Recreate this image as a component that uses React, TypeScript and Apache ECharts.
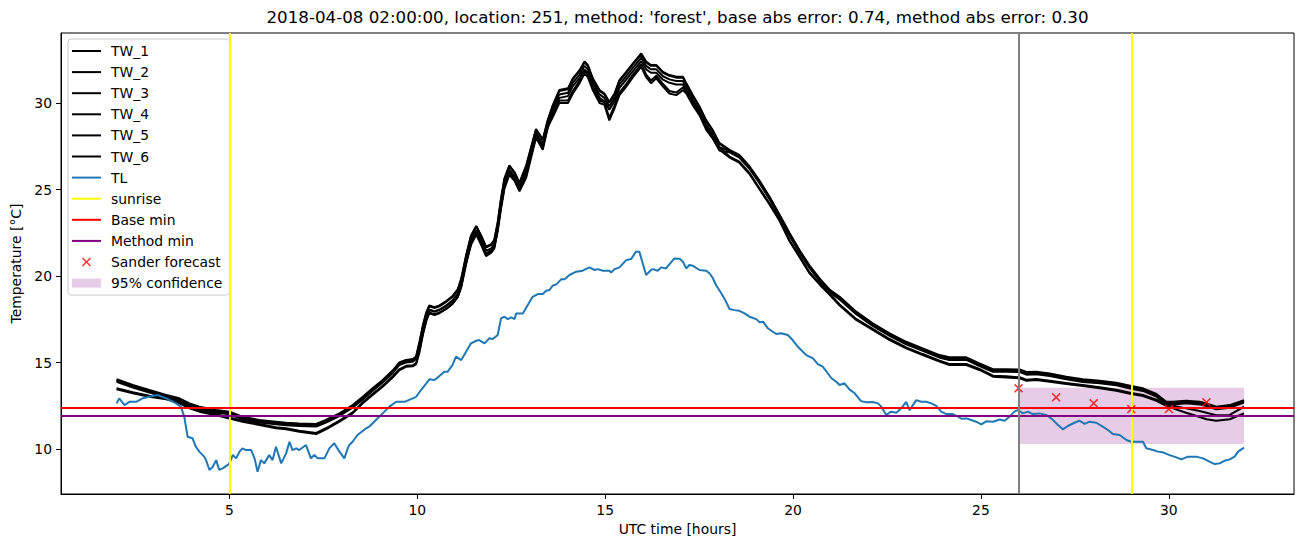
import { useEffect, useRef } from "react";
import * as echarts from "echarts";

const TITLE =
  "2018-04-08 02:00:00, location: 251, method: 'forest', base abs error: 0.74, method abs error: 0.30";
const X_TICKS = [5, 10, 15, 20, 25, 30];
const Y_TICKS = [10, 15, 20, 25, 30];

const TW_HOURS = [
  2.0, 2.43, 2.87, 3.32, 3.67, 3.94, 4.2, 4.65, 5.0, 5.35,
  5.8, 6.24, 6.51, 6.86, 7.31, 7.57, 7.93, 8.28, 8.55, 8.81,
  9.08, 9.35, 9.52, 9.7, 9.88, 9.97, 10.06, 10.15, 10.24, 10.32,
  10.46, 10.59, 10.77, 10.94, 11.08, 11.17, 11.3, 11.43, 11.57, 11.7,
  11.83, 11.97, 12.05, 12.14, 12.23, 12.32, 12.45, 12.59, 12.72, 12.9,
  13.16, 13.34, 13.47, 13.61, 13.78, 14.01, 14.14, 14.32, 14.45, 14.54,
  14.67, 14.85, 14.98, 15.11, 15.25, 15.38, 15.56, 15.74, 15.96, 16.09,
  16.22, 16.36, 16.54, 16.71, 16.89, 17.07, 17.16, 17.33, 17.51, 17.69,
  17.86, 18.04, 18.31, 18.57, 18.84, 19.11, 19.37, 19.64, 19.91, 20.17,
  20.44, 20.71, 20.98, 21.24, 21.68, 22.12, 22.57, 23.01, 23.45, 23.9,
  24.16, 24.61, 24.96, 25.32, 25.67, 26.03, 26.21, 26.47, 26.83, 27.27,
  27.71, 28.16, 28.6, 29.0, 29.31, 29.67, 29.93, 30.11, 30.46, 30.82,
  31.0, 31.26, 31.62, 32.0,
];

const TW_1 = [
  14.03, 13.7, 13.41, 13.12, 12.93, 12.64, 12.45, 12.25, 12.16, 11.87,
  11.68, 11.58, 11.52, 11.48, 11.45, 11.68, 12.06, 12.54, 13.02, 13.51,
  13.99, 14.55, 15.0, 15.15, 15.2, 15.35, 16.2, 17.15, 17.9, 18.3,
  18.2, 18.3, 18.55, 18.85, 19.25, 19.85, 21.2, 22.35, 22.9, 22.35,
  21.7, 21.85, 22.1, 23.1, 24.5, 25.65, 26.4, 26.0, 25.4, 26.4,
  28.5, 27.9, 29.0, 29.9, 30.75, 30.85, 31.43, 31.9, 32.4, 32.2,
  31.43, 30.75, 30.55, 30.07, 30.55, 31.33, 31.8, 32.3, 32.87, 32.4,
  32.2, 32.2, 31.8, 31.62, 31.52, 31.52, 31.14, 30.46, 29.8, 29.0,
  28.45, 27.7, 27.3, 27.0, 26.35, 25.5, 24.6, 23.55, 22.47, 21.5,
  20.6, 19.85, 19.2, 18.8, 17.94, 17.27, 16.69, 16.2, 15.82, 15.43,
  15.3, 15.3, 14.95, 14.61, 14.61, 14.6, 14.45, 14.47, 14.37, 14.18,
  14.03, 13.95, 13.83, 13.64, 13.51, 13.18, 12.73, 12.73, 12.79, 12.73,
  12.64, 12.45, 12.54, 12.83,
];
const TW_2 = [
  13.98, 13.65, 13.36, 13.07, 12.88, 12.59, 12.4, 12.2, 12.11, 11.82,
  11.63, 11.53, 11.47, 11.43, 11.4, 11.63, 12.01, 12.49, 12.97, 13.46,
  13.94, 14.5, 14.95, 15.1, 15.15, 15.3, 16.15, 17.1, 17.85, 18.25,
  18.15, 18.25, 18.5, 18.8, 19.2, 19.8, 21.15, 22.3, 22.85, 22.3,
  21.65, 21.8, 22.05, 23.05, 24.45, 25.6, 26.35, 25.95, 25.35, 26.35,
  28.45, 27.85, 28.95, 29.85, 30.7, 30.8, 31.38, 31.85, 32.35, 32.15,
  31.38, 30.7, 30.5, 30.02, 30.5, 31.28, 31.75, 32.25, 32.82, 32.35,
  32.15, 32.15, 31.75, 31.57, 31.47, 31.47, 31.09, 30.41, 29.75, 28.95,
  28.4, 27.65, 27.25, 26.95, 26.3, 25.45, 24.55, 23.5, 22.42, 21.45,
  20.55, 19.8, 19.15, 18.75, 17.89, 17.22, 16.64, 16.15, 15.77, 15.38,
  15.25, 15.25, 14.9, 14.56, 14.56, 14.55, 14.4, 14.42, 14.32, 14.13,
  13.98, 13.9, 13.78, 13.59, 13.46, 13.13, 12.68, 12.68, 12.74, 12.68,
  12.59, 12.4, 12.49, 12.78,
];
const TW_3 = [
  13.95, 13.62, 13.33, 13.04, 12.85, 12.56, 12.37, 12.17, 12.08, 11.79,
  11.6, 11.5, 11.44, 11.4, 11.37, 11.6, 11.98, 12.46, 12.94, 13.43,
  13.91, 14.47, 14.92, 15.07, 15.12, 15.27, 15.95, 16.9, 17.65, 18.05,
  17.95, 18.05, 18.3, 18.6, 19.0, 19.6, 20.95, 22.1, 22.65, 22.1,
  21.45, 21.6, 21.85, 22.85, 24.25, 25.4, 26.15, 25.75, 25.15, 26.15,
  28.25, 27.65, 28.75, 29.65, 30.5, 30.6, 31.18, 31.65, 32.15, 31.95,
  31.18, 30.5, 30.3, 29.82, 30.3, 31.08, 31.55, 32.05, 32.62, 32.15,
  31.95, 31.95, 31.55, 31.37, 31.27, 31.27, 30.89, 30.21, 29.55, 28.75,
  28.2, 27.45, 27.22, 26.92, 26.27, 25.42, 24.52, 23.47, 22.39, 21.42,
  20.52, 19.77, 19.12, 18.72, 17.86, 17.19, 16.61, 16.12, 15.74, 15.35,
  15.22, 15.22, 14.87, 14.53, 14.53, 14.52, 14.37, 14.39, 14.29, 14.1,
  13.95, 13.87, 13.75, 13.56, 13.43, 13.1, 12.65, 12.65, 12.71, 12.65,
  12.56, 12.37, 12.46, 12.75,
];
const TW_4 = [
  13.88, 13.55, 13.26, 12.97, 12.78, 12.49, 12.3, 12.1, 12.01, 11.72,
  11.53, 11.43, 11.37, 11.33, 11.3, 11.53, 11.91, 12.39, 12.87, 13.36,
  13.84, 14.4, 14.85, 15.0, 15.05, 15.2, 15.75, 16.7, 17.45, 17.85,
  17.75, 17.85, 18.1, 18.4, 18.8, 19.4, 20.75, 21.9, 22.45, 21.9,
  21.25, 21.4, 21.65, 22.65, 24.05, 25.2, 25.95, 25.55, 24.95, 25.95,
  28.05, 27.45, 28.55, 29.45, 30.3, 30.4, 30.98, 31.45, 31.95, 31.75,
  30.98, 30.3, 30.1, 29.62, 30.1, 30.88, 31.35, 31.85, 32.42, 31.95,
  31.75, 31.75, 31.35, 31.17, 31.07, 31.07, 30.69, 30.01, 29.35, 28.55,
  28.0, 27.25, 27.15, 26.85, 26.2, 25.35, 24.45, 23.4, 22.32, 21.35,
  20.45, 19.7, 19.05, 18.65, 17.79, 17.12, 16.54, 16.05, 15.67, 15.28,
  15.15, 15.15, 14.8, 14.46, 14.46, 14.45, 14.3, 14.32, 14.22, 14.03,
  13.88, 13.8, 13.68, 13.49, 13.36, 13.03, 12.58, 12.58, 12.64, 12.58,
  12.49, 12.3, 12.39, 12.68,
];
const TW_5 = [
  13.51, 13.28, 13.08, 12.93, 12.7, 12.41, 12.22, 12.01, 11.83, 11.64,
  11.45, 11.26, 11.2, 11.06, 10.93, 11.2, 11.64, 12.12, 12.7, 13.18,
  13.66, 14.21, 14.61, 14.81, 14.84, 14.96, 15.75, 16.75, 17.55, 18.05,
  17.95, 18.05, 18.25, 18.55, 18.95, 19.5, 20.85, 21.95, 22.55, 21.95,
  21.3, 21.5, 21.75, 22.75, 24.05, 25.2, 26.0, 25.65, 25.05, 25.85,
  28.15, 27.45, 28.75, 29.35, 30.15, 30.15, 30.7, 31.3, 31.85, 31.65,
  30.9, 30.15, 30.05, 29.15, 29.85, 30.61, 31.1, 31.65, 32.25, 31.65,
  31.3, 31.58, 31.1, 30.7, 30.61, 30.9, 30.7, 30.03, 29.45, 28.6,
  28.1, 27.45, 26.91, 26.61, 25.96, 25.06, 24.21, 23.26, 22.06, 21.16,
  20.21, 19.56, 18.96, 18.36, 17.52, 16.94, 16.36, 15.88, 15.49, 15.11,
  14.92, 14.92, 14.63, 14.24, 14.2, 14.15, 14.01, 14.05, 13.95, 13.82,
  13.7, 13.57, 13.43, 13.24, 13.12, 12.85, 12.6, 12.5, 12.35, 12.2,
  12.1, 11.95, 11.97, 12.45,
];
const TW_6 = [
  13.45, 13.22, 13.02, 12.87, 12.64, 12.35, 12.16, 11.95, 11.77, 11.58,
  11.39, 11.2, 11.14, 11.0, 10.87, 11.14, 11.58, 12.06, 12.64, 13.12,
  13.6, 14.15, 14.55, 14.75, 14.78, 14.9, 15.6, 16.6, 17.4, 17.9,
  17.8, 17.9, 18.1, 18.4, 18.8, 19.35, 20.7, 21.8, 22.4, 21.8,
  21.15, 21.35, 21.6, 22.6, 23.9, 25.05, 25.85, 25.5, 24.9, 25.7,
  28.0, 27.3, 28.6, 29.2, 30.0, 30.0, 30.55, 31.15, 31.7, 31.5,
  30.75, 30.0, 29.9, 29.0, 29.7, 30.46, 30.95, 31.5, 32.1, 31.5,
  31.15, 31.43, 30.95, 30.55, 30.46, 30.75, 30.55, 29.88, 29.3, 28.45,
  27.95, 27.3, 26.85, 26.55, 25.9, 25.0, 24.15, 23.2, 22.0, 21.1,
  20.15, 19.5, 18.9, 18.3, 17.46, 16.88, 16.3, 15.82, 15.43, 15.05,
  14.86, 14.86, 14.57, 14.18, 14.14, 14.09, 13.95, 13.99, 13.89, 13.76,
  13.64, 13.51, 13.37, 13.18, 13.06, 12.79, 12.5, 12.35, 12.1, 11.85,
  11.72, 11.64, 11.72, 12.06,
];

const TL_POINTS = [
  [2.0, 12.64], [2.07, 12.93], [2.21, 12.54], [2.34, 12.73], [2.52, 12.73],
  [2.69, 12.93], [2.96, 13.06], [3.09, 13.12], [3.32, 12.93], [3.58, 12.64],
  [3.71, 12.45], [3.8, 11.87], [3.89, 10.71], [4.02, 10.62], [4.11, 10.13],
  [4.2, 9.85], [4.33, 9.56], [4.38, 9.36], [4.47, 8.79], [4.56, 8.98],
  [4.65, 9.36], [4.73, 8.79], [4.82, 8.88], [4.96, 9.08], [5.0, 9.17],
  [5.09, 9.65], [5.18, 9.46], [5.27, 9.85], [5.35, 10.04], [5.44, 9.94],
  [5.58, 9.94], [5.67, 9.46], [5.75, 8.69], [5.84, 9.36], [5.93, 9.17],
  [6.06, 9.65], [6.15, 9.36], [6.24, 10.13], [6.38, 9.17], [6.51, 9.75],
  [6.6, 10.42], [6.68, 9.94], [6.78, 10.04], [6.86, 9.94], [7.04, 10.23],
  [7.17, 9.46], [7.26, 9.65], [7.35, 9.46], [7.53, 9.46], [7.66, 10.04],
  [7.79, 10.33], [7.93, 9.85], [8.06, 9.46], [8.15, 10.04], [8.19, 10.23],
  [8.28, 10.42], [8.41, 10.81], [8.64, 11.2], [8.72, 11.29], [8.9, 11.68],
  [9.08, 12.06], [9.26, 12.45], [9.44, 12.73], [9.66, 12.73], [9.88, 12.93],
  [9.97, 13.02], [10.1, 13.41], [10.24, 13.8], [10.32, 14.03], [10.46, 13.99],
  [10.59, 14.22], [10.72, 14.47], [10.81, 14.47], [10.94, 14.86], [11.03, 15.34],
  [11.17, 15.14], [11.3, 15.62], [11.43, 16.11], [11.57, 16.26], [11.65, 16.3],
  [11.79, 16.11], [11.92, 16.4], [12.01, 16.36], [12.14, 16.59], [12.23, 17.55],
  [12.32, 17.65], [12.41, 17.51], [12.5, 17.61], [12.59, 17.51], [12.63, 17.84],
  [12.81, 17.84], [12.94, 18.32], [13.07, 18.8], [13.21, 18.96], [13.34, 18.96],
  [13.43, 19.15], [13.52, 19.19], [13.6, 19.44], [13.7, 19.52], [13.83, 19.81],
  [13.92, 19.81], [14.05, 20.06], [14.23, 20.25], [14.4, 20.31], [14.58, 20.5],
  [14.72, 20.35], [14.8, 20.4], [14.94, 20.31], [15.11, 20.31], [15.16, 20.21],
  [15.25, 20.4], [15.38, 20.5], [15.56, 20.92], [15.69, 20.98], [15.82, 21.41],
  [15.91, 21.41], [16.09, 20.06], [16.22, 20.35], [16.27, 20.4], [16.4, 20.31],
  [16.49, 20.5], [16.62, 20.44], [16.84, 21.02], [16.98, 21.0], [17.07, 20.83],
  [17.16, 20.44], [17.24, 20.64], [17.33, 20.6], [17.51, 20.35], [17.69, 20.31],
  [17.78, 20.15], [17.86, 19.9], [17.95, 19.48], [18.09, 19.0], [18.22, 18.51],
  [18.31, 18.09], [18.44, 18.03], [18.57, 17.99], [18.71, 17.84], [18.84, 17.65],
  [19.02, 17.51], [19.11, 17.33], [19.2, 17.36], [19.33, 16.98], [19.46, 16.78],
  [19.55, 16.65], [19.68, 16.69], [19.86, 16.59], [19.99, 16.3], [20.13, 15.91],
  [20.35, 15.43], [20.53, 15.24], [20.66, 14.91], [20.79, 14.76], [20.88, 14.51],
  [21.02, 14.09], [21.15, 13.89], [21.24, 13.7], [21.37, 13.8], [21.5, 13.45],
  [21.64, 13.22], [21.81, 12.77], [21.95, 12.7], [22.12, 12.72], [22.26, 12.64],
  [22.35, 12.45], [22.48, 11.97], [22.61, 12.16], [22.75, 12.1], [22.88, 12.35],
  [23.01, 12.73], [23.1, 12.25], [23.28, 12.83], [23.41, 12.73], [23.54, 12.73],
  [23.68, 12.64], [23.81, 12.5], [23.94, 12.16], [24.08, 12.02], [24.25, 12.02],
  [24.39, 11.87], [24.48, 11.75], [24.61, 11.77], [24.74, 11.68], [24.87, 11.58],
  [25.01, 11.43], [25.14, 11.6], [25.32, 11.58], [25.5, 11.71], [25.63, 11.64],
  [25.76, 11.87], [25.89, 12.16], [25.98, 12.25], [26.12, 12.06], [26.25, 12.16],
  [26.38, 12.02], [26.56, 12.06], [26.74, 11.97], [26.87, 11.77], [27.05, 11.39],
  [27.18, 11.14], [27.31, 11.33], [27.49, 11.52], [27.62, 11.64], [27.76, 11.45],
  [27.89, 11.58], [28.07, 11.52], [28.24, 11.29], [28.38, 11.1], [28.51, 10.87],
  [28.69, 10.81], [28.87, 10.52], [29.0, 10.42], [29.31, 10.42], [29.4, 10.04],
  [29.58, 9.94], [29.71, 9.85], [29.84, 9.81], [30.02, 9.65], [30.2, 9.52],
  [30.33, 9.4], [30.51, 9.56], [30.73, 9.56], [30.91, 9.46], [31.08, 9.27],
  [31.22, 9.13], [31.35, 9.17], [31.48, 9.32], [31.62, 9.4], [31.75, 9.56],
  [31.84, 9.85], [32.0, 10.08],
];

const SUNRISE_HOURS = [5, 29];
const FORECAST_HOUR = 26;
const BASE_MIN = 12.38;
const METHOD_MIN = 11.93;
const SANDER_HOURS = [26, 27, 28, 29, 30, 31];
const SANDER_VALUES = [13.51, 12.99, 12.64, 12.31, 12.31, 12.7];
const CONF_HOURS = [26, 32];
const CONF_LIMITS = [10.29, 13.54];

const FONT = "DejaVu Sans";
const X_MARK =
  "path://M0,1.2 L1.2,0 L5,3.8 L8.8,0 L10,1.2 L6.2,5 L10,8.8 L8.8,10 L5,6.2 L1.2,10 L0,8.8 L3.8,5 Z";
// legend handle: a 2px-high bar centred in a 29x9 box
const LINE_ICON = "path://M0,0 M29,9 M0,3.5 L29,3.5 L29,5.5 L0,5.5 Z";

export default function App() {
  const ref = useRef<HTMLDivElement>(null);

  useEffect(() => {
    if (!ref.current) return;
    const chart = echarts.init(ref.current, null, { renderer: "svg" });

    const twSets = [TW_1, TW_2, TW_3, TW_4, TW_5, TW_6];
    const twSeries = twSets.map((vals, k) => ({
      name: `TW_${k + 1}`,
      type: "line",
      symbol: "none",
      color: "#000000",
      lineStyle: { color: "#000000", width: 2 },
      data: TW_HOURS.map((h, i) => [h, vals[i]]),
      z: 2,
    }));

    const lineMark = (color: string, data: any[]) => ({
      silent: true,
      symbol: ["none", "none"],
      label: { show: false },
      emphasis: { disabled: true },
      lineStyle: { color, width: 2, type: "solid" },
      data,
    });

    const lineLegend = (name: string, color: string) => ({
      name,
      icon: LINE_ICON,
      itemStyle: { color, borderWidth: 0 },
    });

    const option: any = {
      animation: false,
      textStyle: { fontFamily: FONT },
      grid: {
        left: 61,
        right: 16,
        top: 33,
        bottom: 53,
        show: true,
        borderColor: "#000",
        borderWidth: 1,
        backgroundColor: "transparent",
      },
      graphic: [
        {
          type: "text",
          x: 677.5,
          y: 17,
          style: {
            text: TITLE,
            fontSize: 16.7,
            fontFamily: FONT,
            fill: "#000",
            align: "center",
            verticalAlign: "middle",
          },
        },
      ],
      xAxis: {
        type: "value",
        min: 0.52,
        max: 33.33,
        name: "UTC time [hours]",
        nameLocation: "middle",
        nameGap: 28,
        nameTextStyle: { fontFamily: FONT, fontSize: 13.9, color: "#000" },
        axisLine: { show: true, onZero: false, lineStyle: { color: "#000", width: 1 } },
        axisTick: { show: true, length: 5, customValues: X_TICKS, lineStyle: { color: "#000", width: 1 } },
        axisLabel: { customValues: X_TICKS, color: "#000", fontSize: 13.9, fontFamily: FONT, margin: 9 },
        splitLine: { show: false },
      },
      yAxis: {
        type: "value",
        min: 7.4,
        max: 34.05,
        name: "Temperature [°C]",
        nameLocation: "middle",
        nameGap: 36,
        nameTextStyle: { fontFamily: FONT, fontSize: 13.9, color: "#000" },
        axisLine: { show: true, onZero: false, lineStyle: { color: "#000", width: 1 } },
        axisTick: { show: true, length: 5, customValues: Y_TICKS, lineStyle: { color: "#000", width: 1 } },
        axisLabel: { customValues: Y_TICKS, color: "#000", fontSize: 13.9, fontFamily: FONT, margin: 9 },
        splitLine: { show: false },
      },
      legend: {
        orient: "vertical",
        left: 68,
        top: 39,
        itemWidth: 29,
        itemHeight: 9,
        itemGap: 7.1,
        padding: [5, 7, 5, 4],
        backgroundColor: "rgba(255,255,255,0.8)",
        borderColor: "#cccccc",
        borderWidth: 1,
        borderRadius: 3,
        selectedMode: false,
        textStyle: { fontFamily: FONT, fontSize: 13.9, color: "#000", lineHeight: 14, padding: [0, 0, 0, 5] },
        data: [
          lineLegend("TW_1", "#000000"),
          lineLegend("TW_2", "#000000"),
          lineLegend("TW_3", "#000000"),
          lineLegend("TW_4", "#000000"),
          lineLegend("TW_5", "#000000"),
          lineLegend("TW_6", "#000000"),
          lineLegend("TL", "#1f77b4"),
          lineLegend("sunrise", "#ffff00"),
          lineLegend("Base min", "#ff0000"),
          lineLegend("Method min", "#800080"),
          { name: "Sander forecast", icon: X_MARK, itemStyle: { color: "#ff0000" } },
          { name: "95% confidence", icon: "rect", itemStyle: { color: "rgba(128,0,128,0.2)" } },
        ],
      },
      series: [
        ...twSeries,
        {
          name: "TL",
          type: "line",
          symbol: "none",
          color: "#1f77b4",
          lineStyle: { color: "#1f77b4", width: 2 },
          data: TL_POINTS,
          z: 2,
        },
        {
          name: "sunrise",
          type: "line",
          symbol: "none",
          color: "#ffff00",
          lineStyle: { color: "#ffff00", width: 2 },
          data: [],
          markLine: lineMark("#ffff00", SUNRISE_HOURS.map((h) => ({ xAxis: h }))),
          z: 3,
        },
        {
          name: "Base min",
          type: "line",
          symbol: "none",
          color: "#ff0000",
          lineStyle: { color: "#ff0000", width: 2 },
          data: [],
          markLine: lineMark("#ff0000", [{ yAxis: BASE_MIN }]),
          z: 3,
        },
        {
          name: "Method min",
          type: "line",
          symbol: "none",
          color: "#800080",
          lineStyle: { color: "#800080", width: 2 },
          data: [],
          markLine: lineMark("#800080", [{ yAxis: METHOD_MIN }]),
          z: 3,
        },
        {
          name: "forecast time",
          type: "line",
          symbol: "none",
          color: "#808080",
          data: [],
          markLine: lineMark("#808080", [{ xAxis: FORECAST_HOUR }]),
          z: 3,
        },
        {
          name: "Sander forecast",
          type: "scatter",
          symbol: X_MARK,
          symbolSize: 9,
          color: "#ff0000",
          itemStyle: { color: "#ff0000" },
          data: SANDER_HOURS.map((h, i) => [h, SANDER_VALUES[i]]),
          z: 4,
        },
        {
          name: "95% confidence",
          type: "line",
          symbol: "none",
          color: "rgba(128,0,128,0.2)",
          data: [],
          markArea: {
            silent: true,
            itemStyle: { color: "rgba(128,0,128,0.2)" },
            label: { show: false },
            data: [
              [
                { xAxis: CONF_HOURS[0], yAxis: CONF_LIMITS[0] },
                { xAxis: CONF_HOURS[1], yAxis: CONF_LIMITS[1] },
              ],
            ],
          },
          z: 1,
        },
      ],
    };

    chart.setOption(option);
    return () => chart.dispose();
  }, []);

  return (
    <div
      ref={ref}
      style={{ position: "fixed", left: 0, top: 0, width: 1310, height: 547, background: "#fff" }}
    />
  );
}
